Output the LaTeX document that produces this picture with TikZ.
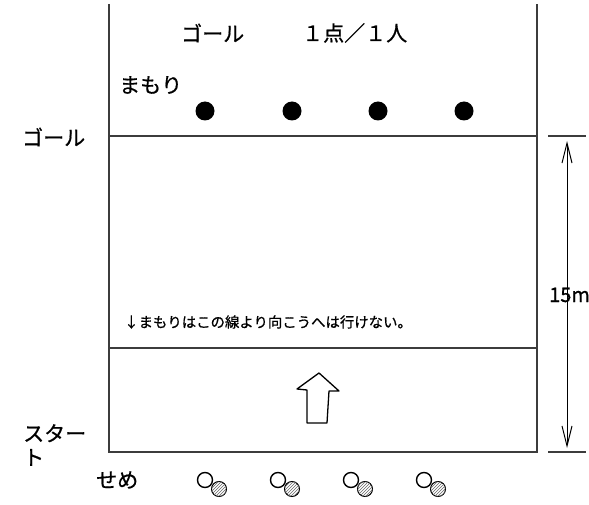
\documentclass[tikz,border=0pt]{standalone}
\usepackage{fontspec}
\setmainfont{Noto Sans CJK JP}[FakeBold=0.7]
\usetikzlibrary{arrows.meta,patterns}
\definecolor{fieldline}{RGB}{60,60,60}
\tikzset{
  field/.style={draw=fieldline, line width=1.5pt},
  lbl/.style={inner sep=0pt, anchor=west, font=\fontsize{21}{24}\selectfont},
  smalllbl/.style={inner sep=0pt, anchor=west, font=\fontsize{14.4}{16}\selectfont},
  defender/.style={circle, fill=black, inner sep=0pt, minimum size=19pt},
  attacker/.style={circle, draw=black, line width=1.4pt, fill=white, inner sep=0pt, minimum size=15pt},
  ball/.style={circle, draw=black, line width=1pt, fill=white, inner sep=0pt, minimum size=15pt,
    postaction={pattern=north east lines, pattern color=gray!80!black}},
  dimarrow/.style={draw=black, line width=1pt, {Straight Barb[length=20pt,width=10pt]}-{Straight Barb[length=20pt,width=10pt]}}
}
\begin{document}
\begin{tikzpicture}[x=1pt,y=-1pt]
\useasboundingbox (0,0) rectangle (589,505);
% field frame
\coordinate (tl) at (109,4);
\coordinate (tr) at (537,4);
\coordinate (gl) at (109,136);
\coordinate (gr) at (537,136);
\coordinate (ll) at (109,348);
\coordinate (lr) at (537,348);
\coordinate (bl) at (109,452);
\coordinate (br) at (537,452);
\draw[field] (tl) -- (bl) -- (br) -- (tr);
\draw[field] (gl) -- (gr);
\draw[field] (ll) -- (lr);
% dimension ticks
\coordinate (t1a) at (548,136);
\coordinate (t1b) at (586,136);
\coordinate (t2a) at (548,452);
\coordinate (t2b) at (586,452);
\draw[field] (t1a) -- (t1b);
\draw[field] (t2a) -- (t2b);
\coordinate (ar1) at (567,141);
\coordinate (ar2) at (567,448);
\draw[dimarrow] (ar1) -- (ar2);
\node[lbl, font=\fontsize{20}{22}\selectfont] (dist) at (549,295) {15m};
% texts
\node[lbl] (goaltop) at (181,33) {ゴール};
\node[lbl] (points) at (302,33) {１点／１人};
\node[lbl] (mamori) at (119,85) {まもり};
\node[lbl] (goalleft) at (22,137) {ゴール};
\node[smalllbl] (rule) at (124,322) {↓まもりはこの線より向こうへは行けない。};
\node[lbl, align=left, anchor=north west, font=\fontsize{21}{24}\selectfont] (start) at (23,424) {スター\\ト};
\node[lbl] (seme) at (96,480) {せめ};
% defenders
\node[defender] (d1) at (205,111) {};
\node[defender] (d2) at (292,111) {};
\node[defender] (d3) at (378,111) {};
\node[defender] (d4) at (464,111) {};
% attackers with balls
\foreach \i/\x in {1/205,2/278,3/351,4/424}{
  \node[attacker] (a\i) at (\x,480) {};
  \node[ball] (b\i) at (\x+14,489) {};
}
% big arrow
\coordinate (p1) at (319,373);
\coordinate (p2) at (339,391);
\coordinate (p3) at (329,391);
\coordinate (p4) at (327,423);
\coordinate (p5) at (307,423);
\coordinate (p6) at (307,390);
\coordinate (p7) at (297,389);
\draw[black, line width=1.3pt, line join=round] (p1) -- (p2) -- (p3) -- (p4) -- (p5) -- (p6) -- (p7) -- cycle;
\end{tikzpicture}
\end{document}
